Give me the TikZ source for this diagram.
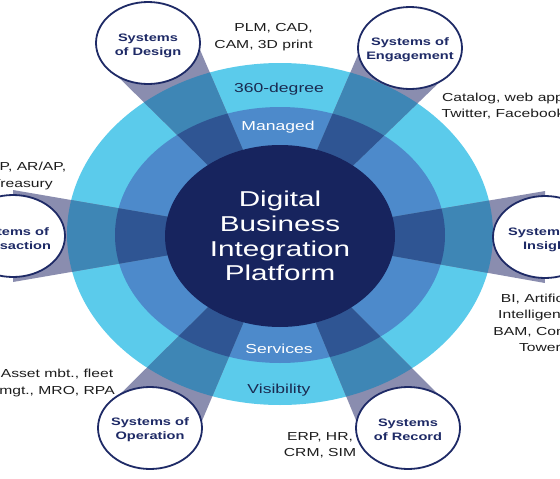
\documentclass[tikz,border=0pt]{standalone}
\usepackage{fontspec}
\setmainfont{Liberation Sans}
\newfontfamily\wf[FakeStretch=1.35]{Liberation Sans}
\newfontfamily\wfc[FakeStretch=1.38]{Liberation Sans}
\usetikzlibrary{shapes.geometric,calc}
\definecolor{lightb}{HTML}{5BCBEB}
\definecolor{midb}{HTML}{4D8ACB}
\definecolor{darkb}{HTML}{17245E}
\definecolor{spokeG}{HTML}{8A8DAF}
\definecolor{spokeL}{HTML}{3E86B5}
\definecolor{spokeM}{HTML}{2F5593}
\definecolor{navy}{HTML}{1E2A66}
\definecolor{ink}{HTML}{1C1C1C}
\definecolor{inkb}{HTML}{1A2A50}
\newcommand\myspokes[1]{%
  \foreach \p in {pd,pe,pi,pt,po,pr}{%
    \fill[#1] (c) -- ($(\p)!46pt!90:(c)$) -- ($(\p)!46pt!-90:(c)$) -- cycle;}}
\begin{document}
\begin{tikzpicture}[x=1pt,y=-1pt,
  sysc/.style={ellipse, draw=navy, line width=1.8pt, fill=white,
    minimum width=104pt, minimum height=82pt, inner sep=0pt},
  systxt/.style={font=\wf\bfseries\fontsize{10.8}{13.8}\selectfont,
    text=navy, align=center, inner sep=0pt},
  lbl/.style={font=\wf\fontsize{11.6}{16.5}\selectfont, text=ink,
    align=center, inner sep=0pt},
  ringl/.style={font=\wf\fontsize{13}{16}\selectfont, inner sep=0pt},
  ]
\useasboundingbox (0,0) rectangle (560,479);
\fill[white] (0,0) rectangle (560,479);
% rings
\fill[lightb] (280,234) ellipse [x radius=213pt, y radius=171pt];
\fill[midb] (280,235) ellipse [x radius=165pt, y radius=128pt];
% anchor points
\coordinate (c) at (280,236);
\coordinate (pd) at (148,43);
\coordinate (pe) at (410,48);
\coordinate (pi) at (545,237);
\coordinate (pt) at (13,236);
\coordinate (po) at (150,428);
\coordinate (pr) at (408,428);
% spokes
\myspokes{spokeG}
\begin{scope}
  \clip (280,234) ellipse [x radius=213pt, y radius=171pt];
  \myspokes{spokeL}
\end{scope}
\begin{scope}
  \clip (280,235) ellipse [x radius=165pt, y radius=128pt];
  \myspokes{spokeM}
\end{scope}
% core
\node[ellipse, fill=darkb, minimum width=230pt, minimum height=182pt,
  inner sep=0pt] (core) at (c) {};
\node[font=\wfc\fontsize{21.5}{24.8}\selectfont, text=white, align=center,
  inner sep=0pt] (coretxt) at (280,236) {Digital\\Business\\Integration\\Platform};
% ring labels
\node[ringl, text=inkb] (r360) at (279,89) {360-degree};
\node[ringl, text=white] (rman) at (278,127) {Managed};
\node[ringl, text=white] (rser) at (279,349) {Services};
\node[ringl, text=inkb] (rvis) at (279,390) {Visibility};
% system circles
\node[sysc] (sd) at (pd) {};
\node[systxt] (sdt) at (148,46) {Systems\\of Design};
\node[sysc] (se) at (pe) {};
\node[systxt] (set) at (410,50) {Systems of\\Engagement};
\node[sysc] (si) at (pi) {};
\node[systxt] (sit) at (547,240) {Systems of\\Insight};
\node[sysc] (st) at (pt) {};
\node[systxt] (stt) at (10,239) {Systems of\\Transaction};
\node[sysc] (so) at (po) {};
\node[systxt] (sot) at (150,430) {Systems of\\Operation};
\node[sysc] (sr) at (pr) {};
\node[systxt] (srt) at (408,430) {Systems\\of Record};
% outer labels
\node[lbl, align=right, anchor=east] (lplm) at (313,37) {PLM, CAD,\\CAM, 3D print};
\node[lbl] (lcat) at (503,106) {Catalog, web app\\Twitter, Facebook};
\node[lbl] (lerp) at (22,176) {ERP, AR/AP,\\Treasury};
\node[lbl] (lbi) at (540,323) {BI, Artificial\\Intelligence,\\BAM, Control\\Tower};
\node[lbl] (lasset) at (57,383) {Asset mbt., fleet\\mgt., MRO, RPA};
\node[lbl] (lhr) at (320,445) {ERP, HR,\\CRM, SIM};
\end{tikzpicture}
\end{document}
